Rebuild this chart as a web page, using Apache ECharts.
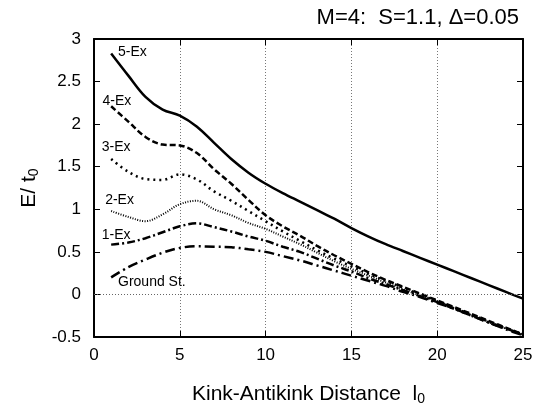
<!DOCTYPE html>
<html>
<head>
<meta charset="utf-8">
<script src="https://cdn.jsdelivr.net/npm/echarts@6/dist/echarts.min.js"></script>
<style>
html,body{margin:0;padding:0;background:#fff;}
#c{width:537px;height:411px;}
</style>
</head>
<body>
<div id="c"></div>
<script>
var distances = [1,2,3,4,5,6,7,8,9,10,11,12,13,14,15,16,17,18,19,20,21,22,23,24,25];
var ex5 = [2.83,2.57,2.32,2.17,2.10,1.97,1.78,1.59,1.43,1.30,1.19,1.09,0.99,0.89,0.78,0.68,0.59,0.51,0.43,0.35,0.27,0.19,0.11,0.03,-0.05];
var ex4 = [2.21,2.03,1.85,1.76,1.75,1.66,1.47,1.30,1.11,0.93,0.80,0.69,0.57,0.46,0.36,0.26,0.17,0.09,0.01,-0.07,-0.15,-0.23,-0.31,-0.39,-0.47];
var ex3 = [1.59,1.44,1.355,1.345,1.41,1.35,1.21,1.10,0.98,0.86,0.74,0.63,0.52,0.42,0.33,0.24,0.16,0.08,0.00,-0.08,-0.16,-0.24,-0.32,-0.40,-0.47];
var ex2 = [0.98,0.91,0.86,0.94,1.06,1.10,1.00,0.93,0.84,0.77,0.68,0.59,0.49,0.39,0.30,0.22,0.14,0.06,-0.01,-0.08,-0.16,-0.24,-0.32,-0.40,-0.47];
var ex1 = [0.585,0.61,0.66,0.73,0.80,0.835,0.79,0.74,0.68,0.63,0.56,0.50,0.42,0.34,0.27,0.19,0.12,0.05,-0.02,-0.09,-0.17,-0.25,-0.33,-0.40,-0.47];
var ground = [0.20,0.32,0.41,0.49,0.546,0.565,0.56,0.555,0.53,0.50,0.45,0.40,0.34,0.28,0.22,0.16,0.10,0.03,-0.03,-0.10,-0.17,-0.25,-0.33,-0.41,-0.48];
var seriesNames = ['5-Ex','4-Ex','3-Ex','2-Ex','1-Ex','Ground St.'];
// label anchor points (data coords)
var labelX = [1.4,0.5,0.45,0.65,0.45,1.4];
var labelY = [2.85,2.27,1.73,1.11,0.70,0.15];
var xTicks = [0,5,10,15,20,25];
var yTicks = [-0.5,0,0.5,1,1.5,2,2.5,3];

var FONT = 'Liberation Sans, Arial, Helvetica, sans-serif';
function pairs(vals){ return distances.map(function(d,i){ return [d, vals[i]]; }); }
var allVals = [ex5, ex4, ex3, ex2, ex1, ground];
var dashes = ['solid', [6,3], [2,4], [1,1.5], [8,3,2,3], [10,4,2,4]];
var widths = [2.5, 2.5, 2.5, 2, 2.5, 2.5];

var chart = echarts.init(document.getElementById('c'), null, {renderer:'canvas'});
var series = allVals.map(function(v, i){
  return {
    name: seriesNames[i],
    type: 'line',
    data: pairs(v),
    smooth: 0.35,
    symbol: 'none',
    lineStyle: {color:'#000', width: widths[i], type: dashes[i]},
    z: 3,
    markPoint: {
      symbol: 'circle', symbolSize: 0,
      data: [{coord:[labelX[i], labelY[i]], value: seriesNames[i]}],
      label: {show:true, position:'right', distance:0, formatter: seriesNames[i], color:'#000', fontSize:14, fontFamily:FONT}
    }
  };
});
series.push({
  type:'line', data:[], silent:true,
  markLine:{silent:true, symbol:'none', label:{show:false},
    lineStyle:{color:'#666', type:[1,2], width:1},
    data:[{yAxis:0}]}
});

chart.setOption({
  animation:false,
  backgroundColor:'#fff',
  title:{text:'M=4:  S=1.1, \u0394=0.05', right:13, top:2,
    textStyle:{fontFamily:FONT, fontSize:22, fontWeight:'normal', color:'#000'}},
  grid:{left:94, right:14, top:39, bottom:69, containLabel:false},
  xAxis:[{
    type:'value', min:0, max:25, interval:5, position:'bottom',
    name:'Kink-Antikink Distance  {i|l}{s|0}', nameLocation:'middle', nameGap:46,
    nameTextStyle:{fontFamily:FONT, fontSize:21, color:'#000',
      rich:{i:{fontFamily:FONT, fontSize:21, color:'#000'}, s:{fontFamily:FONT, fontSize:14, color:'#000', verticalAlign:'bottom', padding:[9,0,0,0]}}},
    axisLine:{show:true, onZero:false, lineStyle:{color:'#000', width:2}},
    axisTick:{show:true, inside:true, length:6, lineStyle:{color:'#000', width:1}},
    axisLabel:{color:'#000', fontSize:17, fontFamily:FONT, margin:10},
    splitLine:{show:true, lineStyle:{color:'#777', type:[1,2], width:1}}
  },{
    type:'value', min:0, max:25, interval:5, position:'top',
    axisLine:{show:true, onZero:false, lineStyle:{color:'#000', width:2}},
    axisTick:{show:true, inside:true, length:6, lineStyle:{color:'#000', width:1}},
    axisLabel:{show:false}, splitLine:{show:false}
  }],
  yAxis:[{
    type:'value', min:-0.5, max:3, interval:0.5, position:'left',
    name:'E/ t{s|0}', nameLocation:'middle', nameGap:53, nameRotate:90,
    nameTextStyle:{fontFamily:FONT, fontSize:21, color:'#000',
      rich:{s:{fontFamily:FONT, fontSize:14, color:'#000', verticalAlign:'bottom', padding:[9,0,0,0]}}},
    axisLine:{show:true, onZero:false, lineStyle:{color:'#000', width:2}},
    axisTick:{show:true, inside:true, length:6, lineStyle:{color:'#000', width:1}},
    axisLabel:{color:'#000', fontSize:17, fontFamily:FONT, margin:13},
    splitLine:{show:false}
  },{
    type:'value', min:-0.5, max:3, interval:0.5, position:'right',
    axisLine:{show:true, onZero:false, lineStyle:{color:'#000', width:2}},
    axisTick:{show:true, inside:true, length:6, lineStyle:{color:'#000', width:1}},
    axisLabel:{show:false}, splitLine:{show:false}
  }],
  series: series
});
</script>
</body>
</html>
